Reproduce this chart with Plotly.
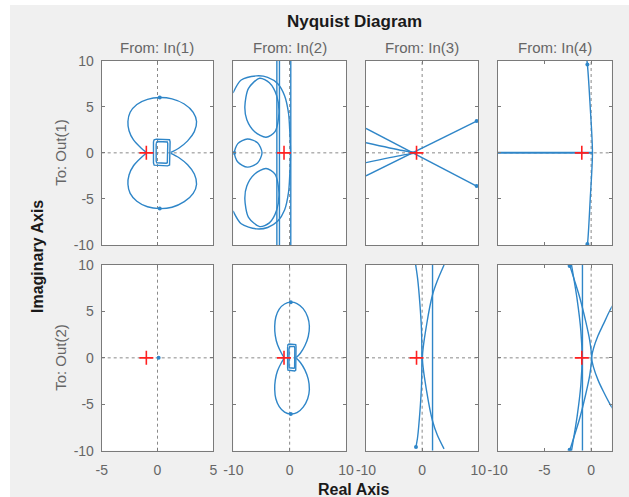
import plotly.graph_objects as go

W, H = 629, 497

# ---------------- data ----------------
COL_TITLES = ["From: In(1)", "From: In(2)", "From: In(3)", "From: In(4)"]
ROW_TITLES = ["To: Out(1)", "To: Out(2)"]
X_RANGES = [[-5, 5], [-10, 10], [-10, 10], [-10, 2.2]]
Y_RANGE = [-10, 10]
X_TICKS = [[-5, 0, 5], [-10, 0, 10], [-10, 0, 10], [-10, -5, 0]]
X_TICKTEXT = [["-5", "0", "5"], ["-10", "0", "10"], ["-10", "0", "10"], ["-10", "-5", "0"]]
Y_TICKS = [-10, -5, 0, 5, 10]
Y_TICKTEXT = ["-10", "-5", "0", "5", "10"]
CRIT_X = [-1]
CRIT_Y = [0]

# Out(1)<-In(1) and Out(2)<-In(2): two lobes + two rounded rectangles
LOBE_UP_X = [-1.0, -1.45, -2.15, -2.55, -2.65, -2.45, -1.85, -0.9, 0.2, 1.3, 2.4, 3.2, 3.5, 3.3, 2.7, 1.9, 1.2]
LOBE_UP_Y = [0.05, 0.5, 1.4, 2.4, 3.4, 4.4, 5.25, 5.8, 6.0, 5.85, 5.3, 4.4, 3.4, 2.3, 1.3, 0.5, 0.05]
LOBE_DN_X = [-1.0, -1.45, -2.15, -2.55, -2.65, -2.45, -1.85, -0.9, 0.2, 1.3, 2.4, 3.2, 3.5, 3.3, 2.7, 1.9, 1.2]
LOBE_DN_Y = [-0.05, -0.5, -1.4, -2.4, -3.4, -4.4, -5.25, -5.85, -6.05, -5.9, -5.3, -4.4, -3.4, -2.3, -1.3, -0.5, -0.05]
RECT_OUT_X = [-0.36, -0.3, -0.1, 0.9, 1.08, 1.13, 1.13, 1.08, 0.9, -0.1, -0.3, -0.36, -0.36]
RECT_OUT_Y = [1.2, 1.42, 1.49, 1.49, 1.42, 1.2, -1.1, -1.33, -1.41, -1.41, -1.33, -1.1, 1.2]
RECT_IN_X = [-0.12, -0.07, 0.05, 0.78, 0.88, 0.92, 0.92, 0.88, 0.78, 0.05, -0.07, -0.12, -0.12]
RECT_IN_Y = [1.0, 1.18, 1.23, 1.23, 1.18, 1.0, -0.9, -1.07, -1.12, -1.12, -1.07, -0.9, 1.0]
LOBE_ARROW_X = [0.2, 0.2]
LOBE_ARROW_Y = [6.0, -6.05]

# Out(1)<-In(2)
P12_OUTER_X = [-10.05, -8.6, -5.9, -3.9, -2.1, -0.9, -0.2, 0.03, 0.15, 0.03, -0.2, -0.9, -2.1, -3.9, -5.9, -8.6, -10.05]
P12_OUTER_Y = [6.5, 7.9, 8.35, 8.2, 7.5, 6.2, 4.3, 2.2, 0.0, -2.2, -4.3, -6.2, -7.4, -8.1, -8.25, -7.7, -6.3]
P12_ELL_UP_X = [-5.3, -3.6, -2.3, -1.9, -2.6, -4.2, -6.2, -7.6, -7.95, -7.3, -5.3]
P12_ELL_UP_Y = [8.1, 7.6, 6.2, 4.3, 2.3, 1.7, 2.3, 3.6, 5.0, 7.0, 8.1]
P12_ELL_DN_X = [-5.3, -3.6, -2.3, -1.9, -2.6, -4.2, -6.2, -7.6, -7.95, -7.3, -5.3]
P12_ELL_DN_Y = [-8.0, -7.6, -6.2, -4.3, -2.3, -1.7, -2.3, -3.6, -5.0, -7.0, -8.0]
P12_CIRC_X = [-9.8, -9.2, -7.5, -5.7, -4.9, -5.7, -7.5, -9.2, -9.8]
P12_CIRC_Y = [0.0, 1.0, 1.5, 1.1, 0.0, -1.1, -1.55, -1.0, 0.0]
P12_VLINES_X = [-2.27, -1.81, 0.2]
P12_ARROW_X = [-9.85]
P12_ARROW_Y = [0.0]

# Out(1)<-In(3)
P13_L1_X = [-10, 9.7]
P13_L1_Y = [2.65, -3.6]
P13_L4_X = [-10, 9.7]
P13_L4_Y = [-2.5, 3.45]
P13_L2_X = [-10, -3.5, -1.0]
P13_L2_Y = [1.1, 0.25, 0.0]
P13_L3_X = [-10, -3.5, -1.0]
P13_L3_Y = [-1.06, -0.25, 0.0]
P13_ARROW_X = [9.7, 9.7]
P13_ARROW_Y = [3.45, -3.6]

# Out(1)<-In(4)
P14_H_X = [-10, 0.14]
P14_H_Y = [0, 0]
P14_V_X = [-0.45, -0.4, -0.1, 0.14, -0.1, -0.4, -0.45]
P14_V_Y = [10, 9.6, 5, 0, -5, -9.9, -10]
P14_ARROW_X = [-0.4, -0.4]
P14_ARROW_Y = [9.6, -9.9]

# Out(2)<-In(1)
P21_X = [0.1]
P21_Y = [0.0]

# Out(2)<-In(3)
P23_V_X = [1.85]
P23_C1_X = [-1.15, -0.8, -0.4, -0.12, -0.05, -0.12, -0.4, -0.8, -1.1]
P23_C1_Y = [10, 8.5, 5.8, 3.0, 0, -3.0, -5.8, -8.5, -9.6]
P23_C2_X = [3.9, 2.7, 1.85, 0.83, 0.05, 0.83, 1.85, 2.7, 3.9]
P23_C2_Y = [10, 8.3, 6.8, 3.7, 0, -3.7, -6.8, -8.3, -9.8]
P23_ARROW_X = [-1.1]
P23_ARROW_Y = [-9.6]

# Out(2)<-In(4)
P24_V_X = [-0.93]
P24_A1_X = [-2.3, -1.8, -1.22, -0.6, -0.15, 0.05, -0.15, -0.6, -1.22, -1.8, -2.3]
P24_A1_Y = [10, 8.4, 6.5, 4.0, 1.86, 0, -1.86, -4.0, -6.5, -8.4, -10]
P24_A2_X = [-2.1, -1.5, -1.1, -0.97, -1.1, -1.5, -2.1]
P24_A2_Y = [10, 6.3, 2.9, 0, -2.9, -6.3, -10]
P24_B_X = [2.4, 2.0, 1.3, 0.74, 0.25, 0.05, 0.25, 0.74, 1.3, 2.0, 2.4]
P24_B_Y = [5.8, 5.1, 3.6, 2.4, 1.0, 0, -1.0, -2.4, -3.6, -4.95, -5.6]
P24_ARROW_X = [-2.3, -2.3]
P24_ARROW_Y = [9.9, -9.9]

# ---------------- styling ----------------
BLUE = "#2f86c8"
FRAME = "#7a7a7a"
TICKC = "#666666"
FONT = "Liberation Sans, Arial, Helvetica, sans-serif"
LW = 1.4

COLS_PX = [(101.7, 213.3), (233.3, 346.0), (366.0, 478.3), (497.7, 611.7)]
ROWS_PX = [(60.7, 245.0), (265.0, 450.7)]

fig = go.Figure()


def ax_names(r, c):
    k = r * 4 + c + 1
    return ("x" if k == 1 else f"x{k}"), ("y" if k == 1 else f"y{k}"), k


def add_line(r, c, xs, ys, shape="spline", width=LW):
    xa, ya, _ = ax_names(r, c)
    fig.add_trace(go.Scatter(x=xs, y=ys, mode="lines", xaxis=xa, yaxis=ya,
                             line=dict(color=BLUE, width=width, shape=shape,
                                       smoothing=0.8 if shape == "spline" else None),
                             hoverinfo="skip", showlegend=False))


def add_dots(r, c, xs, ys):
    xa, ya, _ = ax_names(r, c)
    fig.add_trace(go.Scatter(x=xs, y=ys, mode="markers", xaxis=xa, yaxis=ya,
                             marker=dict(color=BLUE, size=4, symbol="circle"),
                             hoverinfo="skip", showlegend=False))


def add_vlines(r, c, xs_list):
    for xv in xs_list:
        add_line(r, c, [xv, xv], [Y_RANGE[0], Y_RANGE[1]], shape="linear")


# Panel (1,1) and (2,2): same response shape
for (r, c) in [(0, 0), (1, 1)]:
    add_line(r, c, LOBE_UP_X, LOBE_UP_Y)
    add_line(r, c, LOBE_DN_X, LOBE_DN_Y)
    add_line(r, c, RECT_OUT_X, RECT_OUT_Y, shape="linear")
    add_line(r, c, RECT_IN_X, RECT_IN_Y, shape="linear")
    add_dots(r, c, LOBE_ARROW_X, LOBE_ARROW_Y)

# Panel (1,2)
add_line(0, 1, P12_OUTER_X, P12_OUTER_Y)
add_line(0, 1, P12_ELL_UP_X, P12_ELL_UP_Y)
add_line(0, 1, P12_ELL_DN_X, P12_ELL_DN_Y)
add_line(0, 1, P12_CIRC_X, P12_CIRC_Y)
add_vlines(0, 1, P12_VLINES_X)
add_dots(0, 1, P12_ARROW_X, P12_ARROW_Y)

# Panel (1,3)
add_line(0, 2, P13_L1_X, P13_L1_Y, shape="linear")
add_line(0, 2, P13_L4_X, P13_L4_Y, shape="linear")
add_line(0, 2, P13_L2_X, P13_L2_Y)
add_line(0, 2, P13_L3_X, P13_L3_Y)
add_dots(0, 2, P13_ARROW_X, P13_ARROW_Y)

# Panel (1,4)
add_line(0, 3, P14_H_X, P14_H_Y, shape="linear", width=2.0)
add_line(0, 3, P14_V_X, P14_V_Y)
add_dots(0, 3, P14_ARROW_X, P14_ARROW_Y)

# Panel (2,1)
add_dots(1, 0, P21_X, P21_Y)

# Panel (2,3)
add_vlines(1, 2, P23_V_X)
add_line(1, 2, P23_C1_X, P23_C1_Y)
add_line(1, 2, P23_C2_X, P23_C2_Y)
add_dots(1, 2, P23_ARROW_X, P23_ARROW_Y)

# Panel (2,4)
add_vlines(1, 3, P24_V_X)
add_line(1, 3, P24_A1_X, P24_A1_Y)
add_line(1, 3, P24_A2_X, P24_A2_Y)
add_line(1, 3, P24_B_X, P24_B_Y)
add_dots(1, 3, P24_ARROW_X, P24_ARROW_Y)

# critical point and axes
shapes = []
layout_axes = {}
for r in range(2):
    for c in range(4):
        xa, ya, k = ax_names(r, c)
        fig.add_trace(go.Scatter(x=CRIT_X, y=CRIT_Y, mode="markers", xaxis=xa, yaxis=ya,
                                 marker=dict(symbol="cross-thin", size=10,
                                             line=dict(color="#ff2020", width=1.6)),
                                 hoverinfo="skip", showlegend=False))
        x0, x1 = COLS_PX[c]
        t, b = ROWS_PX[r]
        common = dict(showline=True, mirror="ticks", linecolor=FRAME, linewidth=1,
                      ticks="inside", ticklen=3, tickcolor=FRAME, tickwidth=1,
                      showgrid=False, zeroline=False, fixedrange=True,
                      tickfont=dict(size=14, color=TICKC, family=FONT))
        layout_axes["xaxis" if k == 1 else f"xaxis{k}"] = dict(
            domain=[x0 / W, x1 / W], range=X_RANGES[c], anchor=ya,
            tickmode="array", tickvals=X_TICKS[c], ticktext=X_TICKTEXT[c],
            showticklabels=(r == 1), ticklabelstandoff=6, **common)
        layout_axes["yaxis" if k == 1 else f"yaxis{k}"] = dict(
            domain=[1 - b / H, 1 - t / H], range=Y_RANGE, anchor=xa,
            tickmode="array", tickvals=Y_TICKS, ticktext=Y_TICKTEXT,
            showticklabels=(c == 0), ticklabelstandoff=4, **common)
        # dotted zero lines
        shapes.append(dict(type="line", xref=xa, yref=f"{ya} domain", x0=0, x1=0, y0=0, y1=1,
                           line=dict(color="#8a8a8a", width=1, dash="dot"), layer="below"))
        shapes.append(dict(type="line", xref=f"{xa} domain", yref=ya, x0=0, x1=1, y0=0, y1=0,
                           line=dict(color="#8a8a8a", width=1, dash="dot"), layer="below"))

# white outer margin strips (left / top)
shapes.append(dict(type="rect", xref="paper", yref="paper", x0=0, x1=10 / W, y0=0, y1=1,
                   fillcolor="white", line=dict(width=0), layer="below"))
shapes.append(dict(type="rect", xref="paper", yref="paper", x0=0, x1=1, y0=1 - 5 / H, y1=1,
                   fillcolor="white", line=dict(width=0), layer="below"))

ann = []
ann.append(dict(text="<b>Nyquist Diagram</b>", x=354 / W, y=1 - 22 / H, xref="paper", yref="paper",
                showarrow=False, xanchor="center", yanchor="middle",
                font=dict(size=17, color="#1a1a1a", family=FONT)))
for c, txt in enumerate(COL_TITLES):
    x0, x1 = COLS_PX[c]
    ann.append(dict(text=txt, x=(x0 + x1) / 2 / W, y=1 - 48 / H, xref="paper", yref="paper",
                    showarrow=False, xanchor="center", yanchor="middle",
                    font=dict(size=15, color=TICKC, family=FONT)))
for r, txt in enumerate(ROW_TITLES):
    t, b = ROWS_PX[r]
    ann.append(dict(text=txt, x=61 / W, y=1 - (t + b) / 2 / H, xref="paper", yref="paper",
                    showarrow=False, xanchor="center", yanchor="middle", textangle=-90,
                    font=dict(size=15, color=TICKC, family=FONT)))
ann.append(dict(text="<b>Imaginary Axis</b>", x=37 / W, y=1 - 257 / H, xref="paper", yref="paper",
                showarrow=False, xanchor="center", yanchor="middle", textangle=-90,
                font=dict(size=16, color="#1a1a1a", family=FONT)))
ann.append(dict(text="<b>Real Axis</b>", x=354 / W, y=1 - 489 / H, xref="paper", yref="paper",
                showarrow=False, xanchor="center", yanchor="middle",
                font=dict(size=16, color="#1a1a1a", family=FONT)))

fig.update_layout(width=W, height=H, autosize=False,
                  margin=dict(l=0, r=0, t=0, b=0, pad=0, autoexpand=False),
                  paper_bgcolor="#f0f0f0", plot_bgcolor="white",
                  shapes=shapes, annotations=ann, showlegend=False,
                  font=dict(family=FONT), **layout_axes)

fig.write_html("out.html", config={"displayModeBar": False, "staticPlot": True},
               post_script="document.body.style.margin='0px';document.body.style.overflow='hidden';")
